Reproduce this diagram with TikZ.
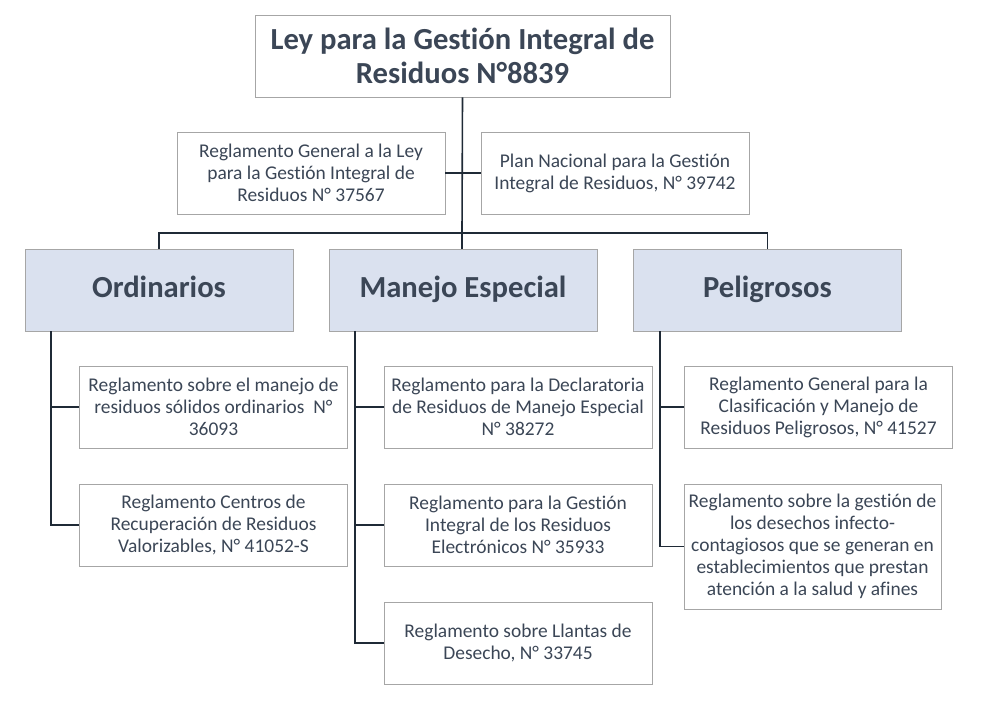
\documentclass[tikz,border=0pt]{standalone}
\usepackage{fontspec}
\setmainfont[Ligatures={NoCommon}]{Carlito}
\usepackage{tikz}
\usetikzlibrary{positioning,calc}
\definecolor{txtblue}{HTML}{3B4656}
\definecolor{catfill}{HTML}{DAE1EF}
\definecolor{linec}{HTML}{1F2A36}
\tikzset{
	box/.style={draw=gray!70, fill=white, align=center, text=txtblue, inner sep=2pt,
		font=\fontsize{14.6}{16.5}\selectfont, minimum width=#1*0.0264cm},
	box/.default=268,
	catbox/.style={box=268, fill=catfill, font=\fontsize{23}{26}\selectfont\bfseries,
		text height=17pt, text depth=5pt, minimum height=82*0.0264cm},
	link/.style={draw=linec, line width=1.2pt}
}
\begin{document}
\begin{tikzpicture}[x=0.0264cm,y=-0.0264cm]

	\useasboundingbox (0,0) rectangle (982,701);

	% top
	\node[box=415, minimum height=82*0.0264cm, font=\fontsize{23}{25.5}\selectfont\bfseries] (ley) at (462.5,56) {Ley para la Gestión Integral de\\Residuos N°8839};
	\node[box, minimum height=82*0.0264cm] (regGen) at (311,173) {Reglamento General a la Ley\\para la Gestión Integral de\\Residuos N° 37567};
	\node[box, minimum height=82*0.0264cm] (plan) at (615,173) {Plan Nacional para la Gestión\\Integral de Residuos, N° 39742};

	% categories
	\node[catbox] (ord) at (159,290) {Ordinarios};
	\node[catbox] (man) at (463,290) {Manejo Especial};
	\node[catbox] (pel) at (767.5,290) {Peligrosos};

	% children
	\node[box, minimum height=82*0.0264cm] (ordA) at (213.5,407) {Reglamento sobre el manejo de\\residuos sólidos ordinarios~~N°\\36093};
	\node[box, minimum height=82*0.0264cm] (ordB) at (213.5,525) {Reglamento Centros de\\Recuperación de Residuos\\Valorizables, N° 41052-S};
	\node[box, minimum height=82*0.0264cm] (manA) at (518,407) {Reglamento para la Declaratoria\\de Residuos de Manejo Especial\\N° 38272};
	\node[box, minimum height=82*0.0264cm] (manB) at (518,525) {Reglamento para la Gestión\\Integral de los Residuos\\Electrónicos N° 35933};
	\node[box, minimum height=82*0.0264cm] (manC) at (518,643) {Reglamento sobre Llantas de\\Desecho, N° 33745};
	\node[box, minimum height=82*0.0264cm] (pelA) at (818.5,407) {Reglamento General para la\\Clasificación y Manejo de\\Residuos Peligrosos, N° 41527};
	\node[box=257, minimum height=125*0.0264cm] (pelB) at (812.5,546.5) {Reglamento sobre la gestión de\\los desechos infecto-\\contagiosos que se generan en\\establecimientos que prestan\\atención a la salud y afines};

	% connectors
	\coordinate (bus) at (462,233);
	\draw[link] (ley.south) -- (bus);
	\draw[link] (regGen.east) -- (regGen.east -| bus);
	\draw[link] (plan.west) -- (plan.west -| bus);
	\draw[link] (ord.north) |- (bus) -| (pel.north);
	\draw[link] (bus) -- (bus |- man.north);

	\foreach \cat/\kids/\xo in {ord/{ordA,ordB}/51, man/{manA,manB,manC}/355, pel/{pelA,pelB}/660}{
		\foreach \k in \kids{
			\draw[link] (\xo,331) |- (\k.west);
		}
	}

\end{tikzpicture}
\end{document}
